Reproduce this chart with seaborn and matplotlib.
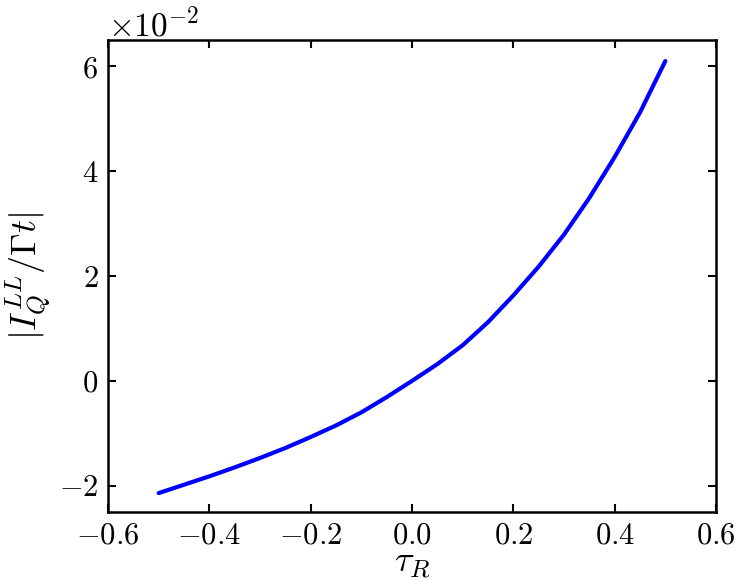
import numpy as np
import pandas as pd
import matplotlib
matplotlib.use("Agg")
import matplotlib.pyplot as plt
import seaborn as sns
from matplotlib.ticker import ScalarFormatter

# values (y in units of 1e-2)
tau_r = [-0.5, -0.45, -0.4, -0.35, -0.3, -0.25, -0.2, -0.15, -0.1, -0.05, 0.0,
         0.05, 0.1, 0.15, 0.2, 0.25, 0.3, 0.35, 0.4, 0.45, 0.5]
ratio = [-2.14, -1.98, -1.82, -1.65, -1.47, -1.28, -1.07, -0.85, -0.60, -0.31, 0.0,
         0.32, 0.68, 1.12, 1.63, 2.18, 2.79, 3.49, 4.27, 5.12, 6.10]

df = pd.DataFrame({"tau": tau_r, "val": np.array(ratio) * 1e-2})

sns.set_style("ticks")
plt.rcParams["mathtext.fontset"] = "cm"
plt.rcParams["font.family"] = ["serif"]
plt.rcParams["font.serif"] = ["cmr10", "DejaVu Serif"]
plt.rcParams["axes.formatter.use_mathtext"] = True
plt.rcParams["axes.unicode_minus"] = True
plt.rcParams["axes.edgecolor"] = "black"
plt.rcParams["xtick.color"] = "black"
plt.rcParams["ytick.color"] = "black"
plt.rcParams["text.color"] = "black"
plt.rcParams["axes.labelcolor"] = "black"

fig = plt.figure(figsize=(7.47, 5.81), dpi=100)
ax = fig.add_axes([0.1446, 0.1188, 0.8139, 0.8122])

sns.lineplot(data=df, x="tau", y="val", color="#0000ff", linewidth=3.0, ax=ax)

ax.set_xlim(-0.6, 0.6)
ax.set_ylim(-0.025, 0.065)
ax.set_xticks([-0.6, -0.4, -0.2, 0.0, 0.2, 0.4, 0.6])
ax.set_yticks([-0.02, 0.0, 0.02, 0.04, 0.06])

fmt = ScalarFormatter(useMathText=True)
fmt.set_powerlimits((-1, 1))
ax.yaxis.set_major_formatter(fmt)
ax.xaxis.set_major_formatter(plt.FuncFormatter(lambda v, p: "$%.1f$" % v if v >= 0 else "$-%.1f$" % abs(v)))

ax.tick_params(direction="in", top=True, right=True, length=6, width=1.5, labelsize=22, pad=7)
ax.yaxis.get_offset_text().set_fontsize(24)
for s in ax.spines.values():
    s.set_linewidth(1.8)

ax.set_xlabel(r"$\tau_R$", fontsize=26, labelpad=0)
ax.set_ylabel(r"$|I_{Q}^{LL}/\Gamma t|$", fontsize=26, labelpad=4)

fig.savefig("out.png", dpi=100)
